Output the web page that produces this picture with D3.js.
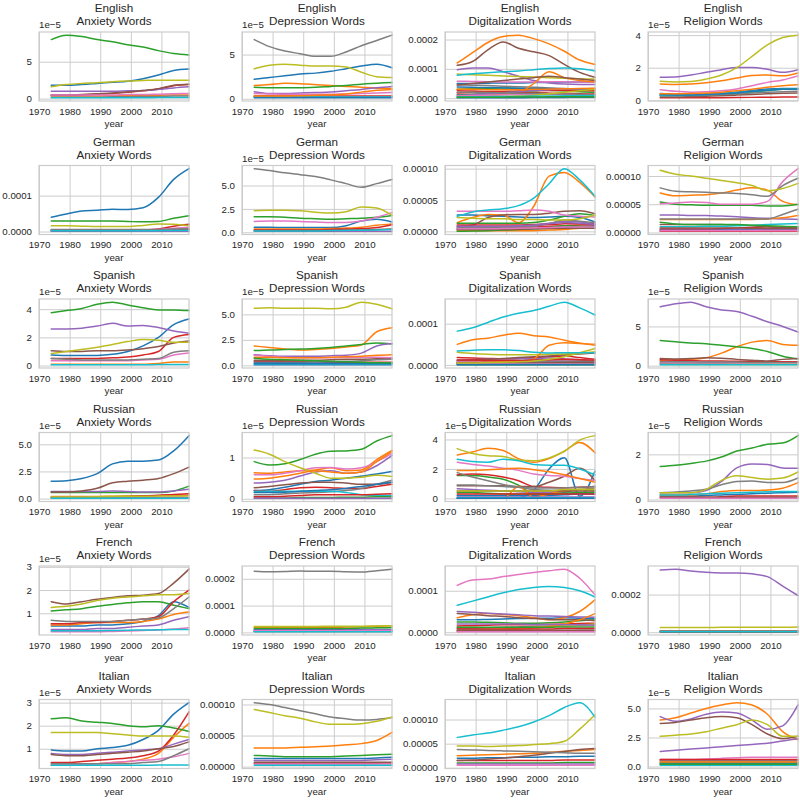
<!DOCTYPE html>
<html>
<head>
<meta charset="utf-8">
<script src="https://cdnjs.cloudflare.com/ajax/libs/d3/7.8.5/d3.min.js"></script>
<style>
  body { margin: 0; background: #ffffff; }
  svg { display: block; font-family: "Liberation Sans", Arial, sans-serif; }
</style>
</head>
<body>
<div id="chart"></div>
<script>
/* * * * * * * * * * * * * * * * *
*   word frequency small multiples *
* * * * * * * * * * * * * * * * * */

// every series is sampled at these years, values in units of 1e-5
const years = [1974, 1979, 1984, 1989, 1994, 1999, 2004, 2009, 2014, 2019];
const unit = 1e-5;
const xTicks = [1970, 1980, 1990, 2000, 2010];
const languages = ["English", "German", "Spanish", "Russian", "French", "Italian"];
const topics = ["Anxiety Words", "Depression Words", "Digitalization Words", "Religion Words"];

// series order = colour cycle order (blue, orange, green, red, purple, brown, pink, gray, olive, cyan, ...)
const englishAnxiety = [
    [1.8, 1.8, 1.9, 2.05, 2.2, 2.35, 2.7, 3.2, 3.8, 4.0],
    [0.35, 0.35, 0.35, 0.35, 0.4, 0.4, 0.45, 0.45, 0.5, 0.5],
    [8.0, 8.6, 8.4, 8.0, 7.7, 7.3, 7.0, 6.5, 6.1, 5.9],
    [0.45, 0.45, 0.5, 0.6, 0.7, 0.85, 1.05, 1.3, 1.75, 1.9],
    [1.0, 1.0, 1.0, 1.0, 1.0, 1.05, 1.1, 1.25, 1.45, 1.6],
    [0.5, 0.5, 0.55, 0.65, 0.75, 0.9, 1.1, 1.35, 1.8, 1.95],
    [0.5, 0.5, 0.5, 0.5, 0.5, 0.55, 0.55, 0.6, 0.65, 0.7],
    [0.2, 0.2, 0.2, 0.2, 0.25, 0.25, 0.3, 0.3, 0.35, 0.35],
    [1.6, 1.9, 2.05, 2.15, 2.3, 2.4, 2.45, 2.5, 2.5, 2.5],
    [0.1, 0.1, 0.1, 0.1, 0.1, 0.12, 0.12, 0.14, 0.15, 0.15]
];
const englishDepression = [
    [2.2, 2.4, 2.6, 2.8, 2.9, 3.1, 3.4, 3.7, 3.9, 3.5],
    [1.5, 1.6, 1.75, 1.7, 1.6, 1.5, 1.4, 1.3, 1.2, 1.15],
    [1.3, 1.25, 1.25, 1.25, 1.3, 1.4, 1.5, 1.65, 1.75, 1.85],
    [0.3, 0.3, 0.3, 0.3, 0.3, 0.3, 0.3, 0.3, 0.3, 0.3],
    [0.8, 0.6, 0.6, 0.65, 0.7, 0.75, 0.9, 1.05, 1.25, 1.4],
    [0.25, 0.25, 0.2, 0.2, 0.2, 0.2, 0.2, 0.2, 0.2, 0.2],
    [0.6, 0.55, 0.5, 0.5, 0.5, 0.5, 0.55, 0.6, 0.65, 0.7],
    [6.7, 5.9, 5.4, 5.1, 4.8, 4.8, 5.3, 6.0, 6.6, 7.2],
    [3.4, 3.8, 3.9, 3.8, 3.7, 3.7, 3.6, 3.0, 2.5, 2.4],
    [0.2, 0.2, 0.2, 0.2, 0.2, 0.2, 0.2, 0.2, 0.2, 0.2],
    [0.1, 0.1, 0.1, 0.1, 0.1, 0.1, 0.1, 0.1, 0.1, 0.1],
    [0.3, 0.3, 0.3, 0.35, 0.4, 0.45, 0.55, 0.75, 0.95, 1.05]
];
const englishDigitalization = [
    [5.0, 5.0, 5.1, 5.2, 5.2, 5.3, 5.4, 5.5, 5.5, 5.5],
    [12.0, 15.5, 19.0, 21.0, 21.5, 20.3, 18.5, 16.0, 13.0, 11.5],
    [3.0, 3.2, 3.4, 3.5, 3.3, 3.0, 2.7, 2.4, 2.2, 2.0],
    [2.5, 2.4, 2.3, 2.3, 2.4, 2.5, 2.6, 2.7, 2.6, 2.5],
    [9.7, 10.3, 10.3, 9.0, 7.5, 6.0, 5.2, 4.8, 4.7, 4.7],
    [11.2, 12.5, 16.5, 19.2, 17.0, 15.8, 14.5, 11.5, 8.8, 7.1],
    [5.8, 5.7, 5.6, 5.5, 5.5, 5.5, 5.6, 5.6, 5.5, 5.4],
    [4.5, 4.4, 4.3, 4.1, 3.9, 3.7, 3.5, 3.3, 3.1, 3.0],
    [8.2, 8.0, 7.8, 7.6, 7.4, 7.2, 7.0, 6.8, 6.6, 6.5],
    [7.8, 8.3, 8.7, 9.0, 9.3, 9.7, 10.1, 10.3, 10.0, 9.3],
    [3.8, 3.7, 3.6, 3.5, 3.4, 3.3, 3.3, 3.2, 3.2, 3.1],
    [0.5, 0.8, 1.0, 1.3, 1.8, 5.0, 9.0, 7.0, 6.0, 5.5],
    [1.2, 1.3, 1.5, 1.8, 2.2, 2.0, 1.6, 1.3, 1.1, 1.0],
    [1.8, 1.9, 2.0, 2.0, 1.9, 1.8, 1.7, 1.6, 1.5, 1.4],
    [1.0, 1.2, 1.5, 1.8, 2.2, 2.6, 2.9, 3.1, 3.2, 3.3],
    [4.5, 5.0, 5.5, 6.0, 6.5, 7.0, 7.5, 7.0, 6.5, 6.0],
    [0.8, 0.9, 1.0, 1.1, 1.2, 1.3, 1.3, 1.3, 1.2, 1.2],
    [2.0, 2.0, 1.9, 1.8, 1.7, 1.6, 1.5, 1.4, 1.3, 1.2],
    [0.2, 0.3, 0.4, 0.5, 0.7, 1.0, 1.5, 2.0, 2.5, 3.0],
    [0.5, 0.5, 0.5, 0.6, 0.6, 0.7, 0.7, 0.8, 0.8, 0.8],
    [0.1, 0.1, 0.1, 0.1, 0.15, 0.2, 0.2, 0.25, 0.3, 0.3],
    [3.0, 3.0, 2.9, 2.9, 2.9, 3.0, 3.1, 3.2, 3.3, 3.4],
    [0.3, 0.3, 0.3, 0.35, 0.4, 0.4, 0.45, 0.5, 0.5, 0.5]
];
const englishReligion = [
    [0.42, 0.38, 0.36, 0.38, 0.42, 0.5, 0.6, 0.7, 0.72, 0.72],
    [1.0, 0.97, 1.0, 1.08, 1.2, 1.37, 1.52, 1.56, 1.5, 1.68],
    [0.3, 0.3, 0.3, 0.32, 0.35, 0.4, 0.5, 0.6, 0.68, 0.7],
    [0.15, 0.15, 0.15, 0.15, 0.16, 0.17, 0.18, 0.19, 0.2, 0.2],
    [1.42, 1.43, 1.55, 1.72, 1.88, 2.02, 2.02, 1.9, 1.72, 1.88],
    [0.2, 0.2, 0.22, 0.25, 0.28, 0.32, 0.36, 0.4, 0.43, 0.45],
    [0.65, 0.55, 0.5, 0.52, 0.58, 0.7, 0.9, 1.1, 1.25, 1.5],
    [0.3, 0.3, 0.3, 0.32, 0.35, 0.4, 0.45, 0.5, 0.52, 0.55],
    [1.17, 1.13, 1.15, 1.3, 1.55, 2.0, 2.7, 3.4, 3.85, 4.0],
    [0.3, 0.3, 0.32, 0.35, 0.4, 0.48, 0.55, 0.62, 0.68, 0.7],
    [0.35, 0.33, 0.33, 0.35, 0.4, 0.45, 0.55, 0.62, 0.68, 0.7],
    [0.4, 0.4, 0.42, 0.45, 0.5, 0.58, 0.68, 0.8, 0.9, 0.95]
];

const germanAnxiety = [
    [4.0, 4.9, 5.7, 5.9, 6.2, 6.1, 6.6, 9.5, 14.5, 17.5],
    [0.4, 0.4, 0.4, 0.4, 0.4, 0.4, 0.4, 0.5, 0.7, 0.9],
    [2.9, 2.9, 2.9, 2.9, 2.9, 2.8, 2.7, 2.8, 3.7, 4.4],
    [0.2, 0.2, 0.2, 0.3, 0.3, 0.3, 0.4, 0.7, 1.5, 2.0],
    [0.05, 0.05, 0.05, 0.05, 0.05, 0.05, 0.05, 0.05, 0.05, 0.05],
    [0.3, 0.3, 0.3, 0.3, 0.3, 0.3, 0.35, 0.4, 0.5, 0.6],
    [0.5, 0.5, 0.5, 0.5, 0.5, 0.5, 0.5, 0.6, 0.9, 1.2],
    [0.6, 0.6, 0.6, 0.6, 0.6, 0.6, 0.6, 0.6, 0.7, 0.8],
    [1.6, 1.6, 1.5, 1.4, 1.4, 1.4, 1.7, 2.1, 2.0, 1.6],
    [0.2, 0.2, 0.2, 0.2, 0.2, 0.2, 0.2, 0.25, 0.3, 0.3]
];
const germanDepression = [
    [0.55, 0.55, 0.5, 0.5, 0.5, 0.5, 0.7, 1.2, 1.4, 1.1],
    [0.35, 0.35, 0.35, 0.35, 0.35, 0.4, 0.45, 0.55, 0.75, 0.9],
    [1.65, 1.65, 1.6, 1.5, 1.45, 1.4, 1.45, 1.5, 1.6, 1.8],
    [0.25, 0.25, 0.25, 0.25, 0.25, 0.3, 0.35, 0.4, 0.5, 0.8],
    [0.1, 0.1, 0.1, 0.1, 0.1, 0.1, 0.1, 0.1, 0.12, 0.12],
    [0.2, 0.2, 0.2, 0.2, 0.2, 0.2, 0.22, 0.25, 0.3, 0.35],
    [1.15, 1.2, 1.2, 1.15, 1.1, 1.05, 1.05, 1.2, 1.6, 2.1],
    [6.8, 6.6, 6.35, 6.15, 5.95, 5.6, 5.2, 4.8, 5.2, 5.65],
    [2.3, 2.35, 2.35, 2.3, 2.15, 2.05, 2.2, 2.7, 2.6, 1.8],
    [0.15, 0.15, 0.15, 0.15, 0.15, 0.18, 0.2, 0.22, 0.25, 0.3]
];
const germanDigitalization = [
    [2.6, 2.6, 2.5, 2.4, 2.3, 2.2, 2.3, 2.4, 2.2, 1.5],
    [1.4, 2.2, 2.7, 2.6, 1.4, 4.0, 8.8, 9.4, 7.8, 5.5],
    [1.3, 1.3, 1.3, 1.3, 1.3, 1.4, 1.8, 2.4, 2.8, 2.5],
    [0.4, 0.4, 0.5, 0.5, 0.6, 0.7, 0.8, 0.9, 1.0, 1.0],
    [0.5, 0.6, 0.6, 0.7, 0.8, 1.0, 1.3, 1.6, 1.5, 1.2],
    [0.8, 1.0, 2.2, 2.6, 2.7, 2.7, 2.9, 3.2, 3.3, 2.8],
    [3.2, 3.2, 3.2, 3.2, 3.3, 3.4, 3.2, 2.6, 2.4, 2.3],
    [0.6, 0.6, 0.6, 0.6, 0.7, 0.8, 1.2, 1.8, 1.6, 1.4],
    [2.2, 2.1, 2.0, 2.0, 1.9, 1.9, 1.8, 1.8, 2.0, 2.6],
    [2.4, 3.1, 3.4, 3.6, 4.1, 5.3, 7.6, 10.0, 8.2, 5.6],
    [0.2, 0.2, 0.2, 0.3, 0.3, 0.4, 0.5, 0.6, 0.7, 0.8],
    [0.1, 0.1, 0.1, 0.1, 0.1, 0.1, 0.2, 0.3, 0.5, 0.6],
    [0.0, 0.05, 0.1, 0.2, 0.3, 0.4, 0.6, 0.9, 0.8, 0.6],
    [1.0, 1.0, 1.0, 1.0, 1.0, 1.1, 1.1, 1.2, 1.2, 1.1],
    [0.8, 0.8, 0.8, 0.8, 0.9, 1.0, 1.2, 1.4, 1.3, 1.1],
    [0.3, 0.3, 0.3, 0.3, 0.35, 0.4, 0.45, 0.5, 0.5, 0.5],
    [0.4, 0.4, 0.4, 0.45, 0.5, 0.55, 0.6, 0.7, 0.7, 0.7]
];
const germanReligion = [
    [0.5, 0.5, 0.5, 0.5, 0.5, 0.5, 0.5, 0.55, 0.6, 0.6],
    [7.0, 6.5, 6.6, 6.7, 7.0, 7.5, 7.9, 7.5, 5.5, 4.9],
    [5.4, 5.0, 4.9, 4.8, 4.8, 4.8, 4.8, 4.7, 4.7, 5.0],
    [0.6, 0.6, 0.6, 0.6, 0.7, 0.8, 0.9, 1.0, 0.9, 0.8],
    [3.1, 3.1, 3.0, 3.0, 2.9, 2.8, 2.6, 2.5, 2.4, 2.3],
    [1.4, 1.4, 1.4, 1.4, 1.4, 1.3, 1.2, 1.0, 0.9, 0.9],
    [5.1, 5.2, 5.4, 5.3, 5.0, 5.0, 5.0, 5.5, 9.0, 11.3],
    [7.9, 7.3, 7.2, 7.1, 7.0, 6.9, 6.7, 6.4, 8.3, 9.6],
    [11.0, 10.3, 10.0, 9.6, 9.2, 8.8, 8.3, 7.4, 7.8, 8.7],
    [1.0, 1.0, 1.0, 1.1, 1.1, 1.2, 1.3, 1.4, 1.5, 1.6],
    [0.3, 0.3, 0.3, 0.3, 0.3, 0.3, 0.35, 0.35, 0.4, 0.4],
    [2.3, 2.3, 2.3, 2.3, 2.3, 2.3, 2.3, 2.4, 2.6, 3.0],
    [1.8, 1.5, 1.4, 1.4, 1.4, 1.4, 1.3, 1.2, 1.1, 1.0],
    [0.2, 0.2, 0.2, 0.2, 0.2, 0.2, 0.2, 0.2, 0.2, 0.2],
    [0.4, 0.4, 0.4, 0.4, 0.4, 0.45, 0.45, 0.5, 0.5, 0.5],
    [0.8, 0.8, 0.8, 0.8, 0.8, 0.8, 0.75, 0.7, 0.7, 0.7],
    [0.3, 0.3, 0.3, 0.3, 0.3, 0.3, 0.3, 0.3, 0.3, 0.3],
    [2.4, 2.4, 2.4, 2.4, 2.4, 2.4, 2.4, 2.4, 3.2, 4.1]
];

const spanishAnxiety = [
    [0.75, 0.72, 0.72, 0.72, 0.8, 1.0, 1.4, 2.0, 2.9, 3.3],
    [0.1, 0.1, 0.1, 0.1, 0.1, 0.1, 0.1, 0.15, 0.25, 0.25],
    [3.75, 3.9, 4.05, 4.35, 4.5, 4.3, 4.1, 3.95, 3.95, 3.9],
    [0.5, 0.5, 0.5, 0.5, 0.55, 0.6, 0.75, 1.0, 2.0, 2.2],
    [2.6, 2.6, 2.65, 2.8, 3.0, 2.8, 2.85, 2.7, 2.45, 2.3],
    [1.05, 1.0, 1.0, 1.05, 1.05, 1.1, 1.2, 1.35, 1.6, 1.75],
    [0.35, 0.35, 0.35, 0.35, 0.35, 0.35, 0.4, 0.45, 0.75, 0.9],
    [0.5, 0.45, 0.4, 0.4, 0.4, 0.4, 0.45, 0.5, 0.95, 1.05],
    [0.85, 1.0, 1.15, 1.3, 1.5, 1.7, 1.85, 1.8, 1.65, 1.65],
    [0.05, 0.05, 0.05, 0.05, 0.05, 0.05, 0.06, 0.07, 0.08, 0.08]
];
const spanishDepression = [
    [0.05, 0.05, 0.05, 0.05, 0.05, 0.05, 0.05, 0.05, 0.05, 0.05],
    [1.9, 1.75, 1.6, 1.5, 1.55, 1.65, 1.8, 2.0, 3.3, 3.7],
    [1.45, 1.5, 1.55, 1.6, 1.65, 1.75, 1.9, 2.05, 2.2, 2.1],
    [0.4, 0.4, 0.35, 0.35, 0.35, 0.3, 0.3, 0.3, 0.3, 0.3],
    [1.05, 0.95, 0.9, 0.9, 0.9, 0.95, 1.0, 1.2, 1.9, 2.15],
    [0.5, 0.5, 0.5, 0.5, 0.5, 0.55, 0.6, 0.6, 0.65, 0.7],
    [1.0, 0.9, 0.8, 0.75, 0.75, 0.75, 0.8, 0.8, 0.8, 0.75],
    [0.3, 0.3, 0.3, 0.3, 0.35, 0.35, 0.4, 0.45, 0.55, 0.6],
    [5.6, 5.65, 5.6, 5.6, 5.6, 5.55, 5.7, 6.2, 6.0, 5.55],
    [0.15, 0.15, 0.15, 0.15, 0.15, 0.15, 0.15, 0.15, 0.15, 0.15],
    [0.2, 0.2, 0.2, 0.2, 0.2, 0.2, 0.2, 0.2, 0.2, 0.2],
    [0.8, 0.8, 0.75, 0.75, 0.75, 0.8, 0.85, 0.9, 1.0, 1.05],
    [0.7, 0.6, 0.55, 0.5, 0.45, 0.4, 0.35, 0.3, 0.25, 0.25]
];
const spanishDigitalization = [
    [1.0, 1.0, 1.0, 1.1, 1.1, 1.2, 1.2, 1.3, 1.3, 1.3],
    [5.0, 6.1, 6.5, 7.2, 7.7, 7.1, 6.8, 6.0, 5.3, 5.0],
    [0.5, 0.5, 0.5, 0.6, 0.6, 0.6, 0.7, 0.7, 0.8, 0.8],
    [1.8, 1.7, 1.6, 1.5, 1.6, 1.8, 2.0, 2.2, 1.8, 1.4],
    [1.2, 1.3, 1.4, 1.5, 1.6, 1.6, 1.7, 1.5, 1.3, 1.1],
    [1.0, 1.2, 1.4, 1.6, 1.8, 2.0, 2.2, 2.5, 2.7, 2.9],
    [0.8, 0.8, 0.9, 0.9, 1.0, 1.0, 1.1, 1.1, 1.2, 1.2],
    [0.6, 0.6, 0.7, 0.7, 0.8, 0.8, 0.9, 0.9, 1.0, 1.0],
    [3.1, 2.8, 2.6, 2.5, 2.5, 2.5, 2.6, 2.7, 2.8, 3.2],
    [8.2, 9.0, 10.3, 11.6, 12.5, 13.2, 14.2, 15.2, 13.8, 12.1],
    [0.3, 0.3, 0.3, 0.3, 0.3, 0.35, 0.35, 0.4, 0.4, 0.4],
    [0.5, 0.6, 0.7, 0.8, 0.9, 1.5, 4.8, 5.4, 5.2, 4.8],
    [0.1, 0.1, 0.1, 0.1, 0.1, 0.1, 0.1, 0.1, 0.1, 0.1],
    [1.2, 1.2, 1.1, 1.1, 1.1, 1.2, 1.3, 1.4, 1.3, 1.2],
    [0.4, 0.4, 0.4, 0.4, 0.45, 0.5, 0.5, 0.55, 0.6, 0.6],
    [0.5, 0.5, 0.5, 0.5, 0.5, 0.5, 0.55, 0.6, 0.6, 0.6],
    [0.3, 0.3, 0.3, 0.3, 0.3, 0.3, 0.3, 0.3, 0.3, 0.3],
    [0.2, 0.2, 0.2, 0.2, 0.2, 0.2, 0.2, 0.2, 0.2, 0.2],
    [0.5, 0.5, 0.6, 0.7, 0.8, 1.0, 1.4, 2.0, 3.0, 4.0],
    [3.4, 3.6, 3.7, 3.7, 3.5, 3.1, 2.9, 3.0, 3.0, 3.0],
    [0.05, 0.05, 0.05, 0.05, 0.05, 0.05, 0.05, 0.05, 0.05, 0.05]
];
const spanishReligion = [
    [0.3, 0.3, 0.3, 0.3, 0.32, 0.34, 0.36, 0.38, 0.4, 0.4],
    [0.7, 0.75, 0.8, 1.0, 1.6, 2.4, 3.0, 3.2, 2.7, 2.6],
    [3.2, 3.05, 2.9, 2.8, 2.6, 2.4, 2.2, 1.8, 1.2, 0.85],
    [0.75, 0.7, 0.65, 0.6, 0.6, 0.55, 0.55, 0.5, 0.5, 0.5],
    [7.5, 7.9, 8.1, 7.5, 7.1, 6.9, 6.3, 5.6, 5.0, 4.3],
    [0.9, 0.85, 0.9, 1.0, 0.95, 0.8, 0.7, 0.6, 0.8, 0.9],
    [0.35, 0.35, 0.35, 0.35, 0.35, 0.35, 0.35, 0.35, 0.35, 0.35],
    [0.5, 0.5, 0.5, 0.45, 0.45, 0.45, 0.4, 0.4, 0.4, 0.4],
    [0.15, 0.15, 0.15, 0.15, 0.15, 0.15, 0.15, 0.15, 0.15, 0.15],
    [0.1, 0.1, 0.1, 0.1, 0.1, 0.1, 0.1, 0.1, 0.1, 0.1]
];

const russianAnxiety = [
    [1.6, 1.65, 1.85, 2.3, 3.2, 3.45, 3.45, 3.55, 4.4, 5.8],
    [0.2, 0.2, 0.2, 0.2, 0.22, 0.24, 0.25, 0.26, 0.28, 0.3],
    [0.55, 0.55, 0.55, 0.55, 0.55, 0.55, 0.55, 0.55, 0.7, 1.15],
    [0.1, 0.1, 0.1, 0.12, 0.15, 0.2, 0.25, 0.3, 0.38, 0.45],
    [0.65, 0.65, 0.65, 0.65, 0.7, 0.65, 0.6, 0.6, 0.7, 0.85],
    [0.6, 0.6, 0.7, 0.95, 1.45, 1.6, 1.7, 1.85, 2.3, 2.9],
    [0.1, 0.1, 0.1, 0.1, 0.1, 0.1, 0.1, 0.1, 0.12, 0.12],
    [0.05, 0.05, 0.05, 0.05, 0.05, 0.05, 0.05, 0.05, 0.05, 0.05],
    [0.15, 0.15, 0.15, 0.17, 0.2, 0.22, 0.22, 0.23, 0.24, 0.25],
    [0.02, 0.02, 0.02, 0.02, 0.02, 0.02, 0.02, 0.02, 0.02, 0.02]
];
const russianDepression = [
    [0.2, 0.22, 0.28, 0.35, 0.42, 0.45, 0.5, 0.55, 0.6, 0.66],
    [0.63, 0.62, 0.65, 0.68, 0.7, 0.75, 0.68, 0.7, 0.95, 1.17],
    [0.9, 0.82, 0.85, 0.95, 1.08, 1.15, 1.16, 1.2, 1.4, 1.53],
    [0.2, 0.18, 0.22, 0.27, 0.28, 0.27, 0.25, 0.25, 0.3, 0.35],
    [0.38, 0.4, 0.45, 0.55, 0.65, 0.68, 0.62, 0.65, 0.8, 1.05],
    [0.27, 0.3, 0.34, 0.38, 0.4, 0.4, 0.38, 0.35, 0.35, 0.4],
    [0.58, 0.58, 0.62, 0.68, 0.75, 0.76, 0.72, 0.75, 0.9, 1.1],
    [0.1, 0.1, 0.12, 0.14, 0.15, 0.17, 0.2, 0.25, 0.35, 0.45],
    [1.18, 1.08, 0.9, 0.75, 0.62, 0.5, 0.5, 0.52, 0.57, 0.54],
    [0.18, 0.18, 0.18, 0.18, 0.18, 0.18, 0.15, 0.1, 0.08, 0.08],
    [0.15, 0.15, 0.16, 0.18, 0.2, 0.22, 0.25, 0.3, 0.35, 0.4],
    [0.48, 0.5, 0.55, 0.62, 0.68, 0.65, 0.62, 0.65, 0.9, 1.15],
    [0.02, 0.02, 0.02, 0.03, 0.03, 0.03, 0.04, 0.04, 0.05, 0.05],
    [0.05, 0.05, 0.06, 0.08, 0.1, 0.1, 0.1, 0.1, 0.11, 0.12],
    [0.01, 0.01, 0.01, 0.01, 0.01, 0.01, 0.01, 0.01, 0.01, 0.01]
];
const russianDigitalization = [
    [0.0, 0.0, 0.0, 0.0, 0.05, 0.55, 2.0, 2.75, 0.15, 1.85],
    [2.95, 3.15, 3.4, 3.25, 2.7, 2.45, 2.7, 3.2, 3.8, 3.1],
    [1.55, 1.55, 1.45, 1.3, 0.9, 0.3, 0.3, 0.4, 0.6, 0.5],
    [1.6, 1.65, 1.6, 1.45, 1.2, 0.8, 0.75, 0.7, 0.75, 0.8],
    [0.65, 0.6, 0.55, 0.5, 0.45, 0.4, 0.4, 0.35, 0.35, 0.3],
    [0.85, 0.85, 0.85, 0.85, 0.8, 0.8, 1.1, 1.5, 2.05, 1.2],
    [2.45, 2.3, 2.2, 2.05, 1.9, 1.65, 1.55, 1.5, 1.35, 1.2],
    [1.75, 1.45, 1.2, 0.95, 0.75, 0.6, 0.55, 0.55, 0.6, 0.7],
    [3.38, 3.05, 2.9, 2.85, 2.6, 2.55, 2.75, 3.2, 3.95, 4.26],
    [2.65, 2.5, 2.45, 2.65, 2.55, 2.3, 2.25, 2.25, 2.0, 1.6],
    [0.2, 0.2, 0.2, 0.2, 0.2, 0.2, 0.2, 0.25, 0.3, 0.3],
    [0.0, 0.0, 0.0, 0.0, 0.8, 0.1, 0.3, 0.5, 0.6, 0.6],
    [0.4, 0.4, 0.35, 0.3, 0.3, 0.3, 0.3, 0.35, 0.4, 0.4],
    [0.3, 0.3, 0.3, 0.3, 0.3, 0.3, 0.3, 0.3, 0.3, 0.3],
    [0.1, 0.1, 0.1, 0.1, 0.1, 0.1, 0.1, 0.1, 0.1, 0.1],
    [0.5, 0.5, 0.5, 0.5, 0.5, 0.5, 0.5, 0.5, 0.5, 0.5],
    [0.05, 0.05, 0.05, 0.05, 0.05, 0.05, 0.05, 0.05, 0.05, 0.05],
    [0.9, 0.9, 0.85, 0.8, 0.75, 0.7, 0.7, 0.7, 0.75, 0.8],
    [0.5, 0.5, 0.5, 0.5, 0.5, 0.5, 0.5, 0.6, 0.6, 0.6],
    [0.05, 0.05, 0.05, 0.05, 0.05, 0.05, 0.05, 0.05, 0.05, 0.05],
    [0.0, 0.0, 0.0, 0.0, 0.0, 0.0, 0.0, 0.0, 0.0, 0.0],
    [1.9, 1.9, 1.95, 2.0, 2.05, 1.95, 1.8, 1.6, 1.35, 1.1]
];
const russianReligion = [
    [0.15, 0.15, 0.15, 0.18, 0.2, 0.22, 0.25, 0.28, 0.3, 0.32],
    [0.2, 0.2, 0.2, 0.25, 0.35, 0.4, 0.4, 0.42, 0.5, 0.75],
    [1.46, 1.52, 1.6, 1.7, 1.88, 2.15, 2.28, 2.45, 2.5, 2.83],
    [0.1, 0.1, 0.1, 0.1, 0.12, 0.15, 0.15, 0.15, 0.15, 0.15],
    [0.3, 0.3, 0.3, 0.4, 0.8, 1.4, 1.57, 1.55, 1.4, 1.38],
    [0.1, 0.1, 0.1, 0.1, 0.1, 0.1, 0.1, 0.1, 0.1, 0.1],
    [0.05, 0.05, 0.05, 0.05, 0.05, 0.05, 0.05, 0.05, 0.05, 0.05],
    [0.3, 0.33, 0.38, 0.45, 0.65, 0.8, 0.82, 0.75, 0.75, 0.95],
    [0.3, 0.3, 0.3, 0.45, 0.85, 1.05, 0.97, 0.9, 0.95, 1.22],
    [0.2, 0.2, 0.22, 0.25, 0.28, 0.3, 0.32, 0.34, 0.35, 0.35]
];

const frenchAnxiety = [
    [0.45, 0.45, 0.45, 0.5, 0.5, 0.55, 0.65, 0.9, 1.5, 1.25],
    [0.5, 0.5, 0.55, 0.6, 0.6, 0.6, 0.65, 0.75, 0.95, 1.05],
    [1.1, 1.15, 1.2, 1.3, 1.38, 1.45, 1.5, 1.5, 1.35, 1.2],
    [0.55, 0.55, 0.6, 0.6, 0.65, 0.7, 0.75, 0.85, 1.5, 2.0],
    [0.3, 0.3, 0.3, 0.35, 0.35, 0.4, 0.45, 0.5, 0.7, 0.85],
    [1.5, 1.4, 1.5, 1.6, 1.68, 1.75, 1.78, 1.85, 2.3, 2.9],
    [0.2, 0.2, 0.2, 0.2, 0.22, 0.24, 0.26, 0.28, 0.32, 0.38],
    [0.7, 0.65, 0.65, 0.65, 0.65, 0.7, 0.75, 0.8, 1.2, 1.7],
    [1.25, 1.3, 1.4, 1.55, 1.65, 1.7, 1.75, 1.8, 1.8, 1.85],
    [0.25, 0.25, 0.25, 0.25, 0.26, 0.27, 0.28, 0.29, 0.3, 0.3]
];
const frenchDepression = [
    [1.0, 1.0, 1.0, 1.0, 1.0, 1.0, 1.0, 1.1, 1.1, 1.1],
    [1.8, 1.8, 1.8, 1.8, 1.9, 1.9, 2.0, 2.1, 2.3, 2.5],
    [1.5, 1.5, 1.5, 1.5, 1.5, 1.5, 1.5, 1.6, 1.7, 1.8],
    [0.5, 0.5, 0.5, 0.5, 0.5, 0.5, 0.5, 0.55, 0.6, 0.6],
    [0.8, 0.8, 0.8, 0.8, 0.8, 0.8, 0.85, 0.9, 0.9, 0.9],
    [0.3, 0.3, 0.3, 0.3, 0.3, 0.3, 0.3, 0.3, 0.3, 0.3],
    [0.6, 0.6, 0.6, 0.6, 0.6, 0.6, 0.6, 0.65, 0.7, 0.7],
    [22.8, 22.6, 22.7, 22.9, 22.8, 22.8, 22.6, 22.5, 23.0, 23.6],
    [2.2, 2.2, 2.2, 2.2, 2.2, 2.3, 2.3, 2.3, 2.4, 2.5],
    [0.2, 0.2, 0.2, 0.2, 0.2, 0.2, 0.2, 0.2, 0.2, 0.2]
];
const frenchDigitalization = [
    [3.0, 3.0, 3.1, 3.2, 3.3, 3.4, 3.4, 3.5, 3.4, 3.3],
    [3.5, 4.2, 4.5, 4.3, 4.0, 3.5, 3.0, 3.5, 5.0, 7.8],
    [2.5, 2.5, 2.4, 2.3, 2.2, 2.2, 2.3, 2.5, 2.8, 3.0],
    [1.5, 1.6, 1.7, 1.8, 1.8, 1.8, 1.9, 2.0, 2.1, 2.2],
    [5.0, 4.8, 4.6, 4.4, 4.2, 4.0, 3.9, 3.8, 3.7, 3.6],
    [4.5, 4.3, 4.0, 3.8, 3.5, 3.3, 3.1, 3.0, 3.0, 2.8],
    [11.3, 12.6, 12.8, 13.4, 13.9, 14.4, 14.8, 15.2, 13.0, 9.0],
    [1.0, 1.0, 1.1, 1.2, 1.3, 1.4, 1.5, 1.6, 1.7, 1.8],
    [0.5, 0.6, 0.7, 0.8, 1.0, 1.2, 1.4, 1.6, 1.8, 2.0],
    [6.5, 7.5, 8.5, 9.5, 10.3, 10.8, 11.0, 10.8, 10.0, 8.5],
    [0.3, 0.3, 0.3, 0.3, 0.3, 0.3, 0.35, 0.35, 0.4, 0.4],
    [0.2, 0.3, 0.4, 0.5, 0.7, 1.0, 1.4, 2.0, 3.0, 4.5],
    [1.2, 1.2, 1.2, 1.2, 1.2, 1.2, 1.2, 1.3, 1.3, 1.3],
    [0.8, 0.8, 0.8, 0.8, 0.8, 0.8, 0.8, 0.9, 0.9, 0.9],
    [2.0, 2.0, 2.0, 2.0, 2.0, 1.9, 1.9, 1.8, 1.8, 1.7],
    [0.5, 0.5, 0.5, 0.5, 0.5, 0.5, 0.5, 0.5, 0.5, 0.5],
    [0.1, 0.1, 0.1, 0.1, 0.1, 0.1, 0.1, 0.1, 0.1, 0.1]
];
const frenchReligion = [
    [0.3, 0.3, 0.3, 0.3, 0.3, 0.3, 0.3, 0.3, 0.3, 0.3],
    [0.8, 0.8, 0.8, 0.8, 0.8, 0.8, 0.8, 0.8, 0.8, 0.8],
    [0.4, 0.4, 0.4, 0.4, 0.4, 0.4, 0.4, 0.4, 0.4, 0.4],
    [0.3, 0.3, 0.3, 0.3, 0.3, 0.3, 0.3, 0.3, 0.3, 0.3],
    [33.0, 33.5, 32.5, 31.8, 31.5, 31.5, 31.0, 29.5, 24.5, 19.5],
    [0.2, 0.2, 0.2, 0.2, 0.2, 0.2, 0.2, 0.2, 0.2, 0.2],
    [0.5, 0.5, 0.5, 0.5, 0.5, 0.5, 0.5, 0.5, 0.5, 0.5],
    [0.6, 0.6, 0.6, 0.6, 0.6, 0.6, 0.6, 0.6, 0.6, 0.6],
    [2.5, 2.5, 2.5, 2.5, 2.6, 2.6, 2.6, 2.7, 2.7, 2.8],
    [0.2, 0.2, 0.2, 0.2, 0.2, 0.2, 0.2, 0.2, 0.2, 0.2]
];

const italianAnxiety = [
    [0.95, 0.9, 0.9, 1.0, 1.05, 1.15, 1.4, 1.8, 2.5, 3.0],
    [0.3, 0.3, 0.3, 0.35, 0.4, 0.45, 0.55, 0.8, 1.5, 2.1],
    [2.3, 2.35, 2.2, 2.15, 2.1, 2.0, 1.95, 2.0, 1.9, 1.75],
    [0.4, 0.4, 0.45, 0.5, 0.55, 0.6, 0.7, 0.9, 1.6, 2.6],
    [0.8, 0.75, 0.75, 0.8, 0.85, 0.9, 0.95, 1.0, 1.2, 1.4],
    [0.75, 0.7, 0.7, 0.75, 0.8, 0.85, 0.9, 1.0, 1.1, 1.3],
    [0.3, 0.3, 0.3, 0.35, 0.4, 0.45, 0.5, 0.55, 0.65, 0.8],
    [0.35, 0.35, 0.35, 0.35, 0.35, 0.35, 0.4, 0.45, 0.7, 1.0],
    [1.7, 1.7, 1.7, 1.7, 1.65, 1.6, 1.55, 1.55, 1.55, 1.5],
    [0.28, 0.28, 0.28, 0.28, 0.28, 0.28, 0.28, 0.3, 0.3, 0.3]
];
const italianDepression = [
    [1.3, 1.3, 1.3, 1.3, 1.3, 1.3, 1.3, 1.3, 1.4, 1.5],
    [3.0, 3.0, 3.0, 3.1, 3.2, 3.3, 3.5, 3.7, 4.2, 5.5],
    [1.8, 1.7, 1.6, 1.6, 1.6, 1.6, 1.7, 1.8, 1.9, 2.0],
    [0.5, 0.5, 0.5, 0.5, 0.5, 0.5, 0.5, 0.5, 0.55, 0.6],
    [1.0, 1.0, 1.0, 1.0, 1.0, 1.0, 1.0, 1.0, 1.1, 1.2],
    [0.7, 0.7, 0.7, 0.7, 0.7, 0.7, 0.7, 0.7, 0.7, 0.7],
    [0.4, 0.4, 0.4, 0.4, 0.4, 0.4, 0.4, 0.4, 0.4, 0.4],
    [10.3, 10.0, 9.5, 9.0, 8.5, 8.0, 7.7, 7.5, 7.6, 7.9],
    [9.2, 8.7, 8.2, 7.8, 7.2, 6.8, 6.8, 6.9, 7.3, 8.0],
    [0.2, 0.2, 0.2, 0.2, 0.2, 0.2, 0.2, 0.2, 0.2, 0.2]
];
const italianDigitalization = [
    [2.0, 2.0, 2.1, 2.1, 2.2, 2.2, 2.3, 2.3, 2.4, 2.4],
    [2.5, 2.6, 2.7, 2.8, 2.9, 3.0, 3.2, 3.4, 3.6, 3.8],
    [1.0, 1.0, 1.0, 1.0, 1.0, 1.0, 1.0, 1.1, 1.1, 1.1],
    [1.5, 1.5, 1.5, 1.5, 1.5, 1.5, 1.5, 1.6, 1.6, 1.6],
    [0.8, 0.8, 0.8, 0.8, 0.8, 0.8, 0.8, 0.8, 0.8, 0.8],
    [1.5, 1.6, 1.8, 2.0, 2.3, 2.6, 3.0, 3.4, 3.8, 4.0],
    [0.5, 0.5, 0.5, 0.5, 0.5, 0.5, 0.5, 0.5, 0.5, 0.5],
    [3.8, 3.7, 3.6, 3.5, 3.4, 3.3, 3.2, 3.1, 3.0, 3.0],
    [4.5, 4.5, 4.4, 4.5, 4.6, 4.8, 5.0, 5.5, 8.0, 11.0],
    [6.3, 6.8, 7.2, 7.8, 8.5, 9.5, 10.8, 12.5, 13.5, 10.5]
];
const italianReligion = [
    [0.2, 0.2, 0.2, 0.2, 0.2, 0.2, 0.2, 0.2, 0.2, 0.2],
    [4.0, 4.2, 4.6, 5.0, 5.3, 5.5, 5.3, 4.5, 3.0, 2.3],
    [0.3, 0.3, 0.3, 0.3, 0.3, 0.3, 0.3, 0.3, 0.3, 0.3],
    [0.5, 0.5, 0.5, 0.5, 0.5, 0.5, 0.5, 0.5, 0.5, 0.5],
    [4.3, 3.9, 4.1, 4.5, 4.7, 4.6, 4.0, 3.2, 3.5, 5.3],
    [3.7, 3.8, 4.0, 4.2, 4.3, 4.2, 3.6, 2.8, 2.4, 2.6],
    [0.6, 0.6, 0.6, 0.65, 0.7, 0.75, 0.8, 0.8, 0.8, 0.8],
    [0.5, 0.5, 0.5, 0.5, 0.5, 0.5, 0.5, 0.5, 0.5, 0.5],
    [2.6, 2.7, 2.8, 3.0, 3.3, 3.6, 4.0, 3.6, 2.6, 2.6],
    [0.1, 0.1, 0.1, 0.1, 0.1, 0.1, 0.1, 0.1, 0.1, 0.1],
    [0.3, 0.3, 0.3, 0.3, 0.3, 0.3, 0.3, 0.3, 0.3, 0.3],
    [0.4, 0.4, 0.4, 0.4, 0.4, 0.4, 0.4, 0.4, 0.4, 0.4],
    [0.2, 0.2, 0.2, 0.2, 0.2, 0.2, 0.2, 0.2, 0.2, 0.2],
    [0.6, 0.6, 0.6, 0.6, 0.6, 0.6, 0.6, 0.6, 0.6, 0.6],
    [1.3, 1.4, 1.5, 1.6, 1.7, 1.8, 1.9, 2.0, 2.2, 2.4]
];

// y tick values per panel (same units), rows = languages, cols = topics
const yTicks = [
    [[0, 5], [0, 5], [0, 10, 20], [0, 2, 4]],
    [[0, 10], [0, 2.5, 5], [0, 5, 10], [0, 5, 10]],
    [[0, 2, 4], [0, 2.5, 5], [0, 10], [0, 5]],
    [[0, 2.5, 5], [0, 1], [0, 2, 4], [0, 2]],
    [[1, 2, 3], [0, 10, 20], [0, 10], [0, 20]],
    [[1, 2, 3], [0, 5, 10], [0, 5, 10], [0, 2.5, 5]]
];

const panelData = [
    [englishAnxiety, englishDepression, englishDigitalization, englishReligion],
    [germanAnxiety, germanDepression, germanDigitalization, germanReligion],
    [spanishAnxiety, spanishDepression, spanishDigitalization, spanishReligion],
    [russianAnxiety, russianDepression, russianDigitalization, russianReligion],
    [frenchAnxiety, frenchDepression, frenchDigitalization, frenchReligion],
    [italianAnxiety, italianDepression, italianDigitalization, italianReligion]
];

const textColor = "#262626";
const gridColor = "#cccccc";
const colors = d3.schemeCategory10;

class WordPanel {

    constructor(_svg, _series, _ticks, _title, _row, _col) {
        this.svg = _svg;
        this.series = _series;
        this.ticks = _ticks;
        this.title = _title;
        this.row = _row;
        this.col = _col;

        this.initVis();
    }

    initVis() {
        let vis = this;

        vis.width = 150;
        vis.height = 69;
        vis.left = 39 + 203 * vis.col;
        vis.top = 32 + 133.5 * vis.row;

        vis.g = vis.svg.append("g")
            .attr("transform", "translate(" + vis.left + "," + vis.top + ")");

        vis.x = d3.scaleLinear()
            .domain([1970, 2019])
            .range([0, vis.width]);

        // matplotlib-like 5% margin around the data
        let ext = d3.extent(vis.series.flat());
        let pad = (ext[1] - ext[0]) * 0.05;
        vis.y = d3.scaleLinear()
            .domain([ext[0] - pad, ext[1] + pad])
            .range([vis.height, 0]);

        // scientific offset or plain decimals
        vis.sci = d3.max(vis.ticks) * unit < 1e-4;
        if (vis.sci) {
            vis.fmt = vis.ticks.every(Number.isInteger) ? d3.format("d") : d3.format(".1f");
        } else {
            let dec = d3.max(vis.ticks, t => decimalsOf(t * unit));
            vis.fmt = t => (t * unit).toFixed(dec);
        }

        this.updateVis();
    }

    updateVis() {
        let vis = this;

        // x grid + labels
        vis.g.append("g")
            .attr("transform", "translate(0," + vis.height + ")")
            .call(d3.axisBottom(vis.x).tickValues(xTicks).tickSize(-vis.height).tickPadding(7).tickFormat(d3.format("d")))
            .call(g => g.select(".domain").remove())
            .call(g => g.selectAll("line").attr("stroke", gridColor).attr("stroke-width", 1))
            .call(g => g.selectAll("text").attr("fill", textColor))
            .attr("font-size", 9.7)
            .attr("font-family", null);

        // y grid + labels
        let yVals = vis.ticks.filter(t => t >= vis.y.domain()[0] && t <= vis.y.domain()[1]);
        vis.g.append("g")
            .call(d3.axisLeft(vis.y).tickValues(yVals).tickSize(-vis.width).tickPadding(7).tickFormat(vis.fmt))
            .call(g => g.select(".domain").remove())
            .call(g => g.selectAll("line").attr("stroke", gridColor).attr("stroke-width", 1))
            .call(g => g.selectAll("text").attr("fill", textColor))
            .attr("font-size", 9.7)
            .attr("font-family", null);

        // lines
        let line = d3.line()
            .x((d, i) => vis.x(years[i]))
            .y(d => vis.y(d))
            .curve(d3.curveMonotoneX);

        vis.g.append("g")
            .selectAll("path")
            .data(vis.series)
            .join("path")
            .attr("d", line)
            .attr("fill", "none")
            .attr("stroke", (d, i) => colors[i % 10])
            .attr("stroke-width", 1.5)
            .attr("stroke-linejoin", "round")
            .attr("stroke-linecap", "round");

        // frame
        vis.g.append("rect")
            .attr("width", vis.width)
            .attr("height", vis.height)
            .attr("fill", "none")
            .attr("stroke", gridColor)
            .attr("stroke-width", 1.2);

        // title, two lines
        vis.g.append("text")
            .attr("x", vis.width / 2)
            .attr("y", -20)
            .attr("text-anchor", "middle")
            .attr("font-size", 11.7)
            .attr("fill", textColor)
            .text(vis.title[0]);
        vis.g.append("text")
            .attr("x", vis.width / 2)
            .attr("y", -7)
            .attr("text-anchor", "middle")
            .attr("font-size", 11.7)
            .attr("fill", textColor)
            .text(vis.title[1]);

        if (vis.sci) {
            vis.g.append("text")
                .attr("x", 0)
                .attr("y", -4)
                .attr("font-size", 9.7)
                .attr("fill", textColor)
                .text("1e\u22125");
        }

        vis.g.append("text")
            .attr("x", vis.width / 2)
            .attr("y", vis.height + 26)
            .attr("text-anchor", "middle")
            .attr("font-size", 9.7)
            .attr("fill", textColor)
            .text("year");
    }
}

function decimalsOf(v) {
    for (let d = 0; d < 10; d++) {
        let s = v * Math.pow(10, d);
        if (Math.abs(Math.round(s) - s) < 1e-6) return d;
    }
    return 10;
}

// SVG drawing area
let svg = d3.select("#chart").append("svg")
    .attr("width", 800)
    .attr("height", 807);

svg.append("rect")
    .attr("width", 800)
    .attr("height", 807)
    .attr("fill", "#ffffff");

languages.forEach((lang, r) => {
    topics.forEach((topic, c) => {
        new WordPanel(svg, panelData[r][c], yTicks[r][c], [lang, topic], r, c);
    });
});
</script>
</body>
</html>
